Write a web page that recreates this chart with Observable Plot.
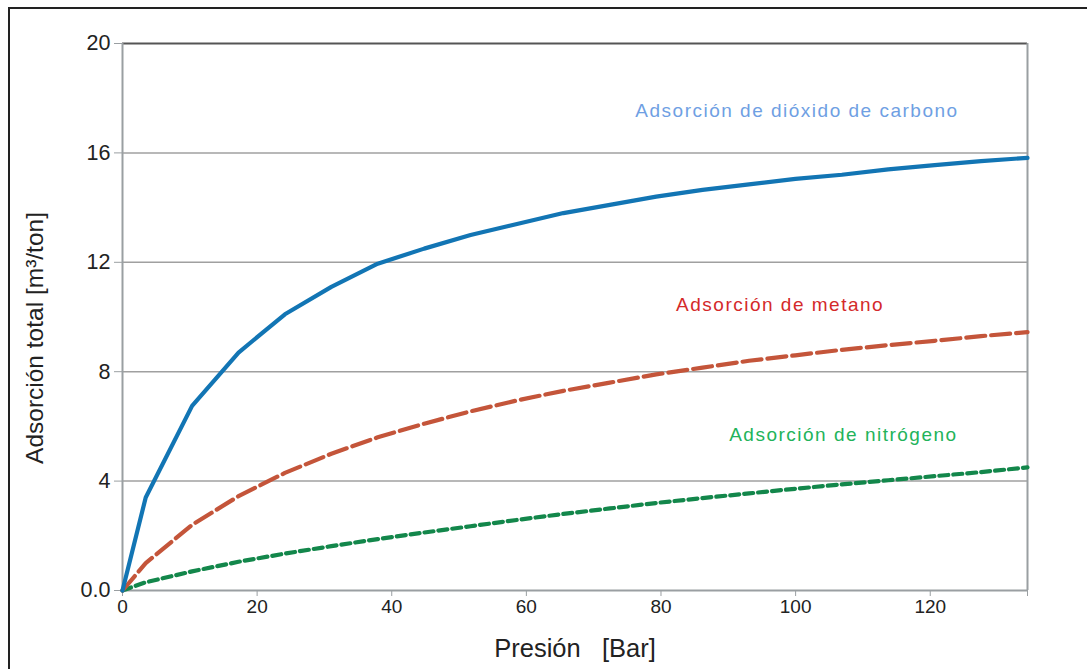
<!DOCTYPE html>
<html>
<head>
<meta charset="utf-8">
<script src="https://cdn.jsdelivr.net/npm/d3@7"></script>
<script src="https://cdn.jsdelivr.net/npm/@observablehq/plot@0.6"></script>
<style>
  html, body { margin: 0; padding: 0; background: #fff; }
  #wrap { position: relative; width: 1087px; height: 669px; overflow: hidden; }
  #border { position: absolute; left: 8px; top: 7px; width: 1100px; height: 700px;
            border-left: 2px solid #222; border-top: 2px solid #222; box-sizing: border-box; }
  #chart { position: absolute; left: 0; top: 0; }
</style>
</head>
<body>
<div id="wrap"><div id="border"></div><div id="chart"></div></div>
<script>
// Pressure (bar)
const pressure = [0, 3.45, 10.34, 17.24, 24.13, 31.03, 37.92, 44.82, 51.71, 58.61, 65.5,
                  72.4, 79.29, 86.18, 93.08, 99.97, 106.87, 113.76, 120.66, 127.55, 134.45];
// Adsorption (m3/ton)
const co2      = [0, 3.4, 6.75, 8.7, 10.1, 11.1, 11.95, 12.5, 13.0, 13.4, 13.8,
                  14.1, 14.4, 14.65, 14.85, 15.05, 15.2, 15.4, 15.55, 15.7, 15.82];
const methane  = [0, 1.0, 2.4, 3.45, 4.3, 5.0, 5.6, 6.1, 6.55, 6.95, 7.3,
                  7.6, 7.9, 8.15, 8.4, 8.6, 8.8, 8.97, 9.13, 9.3, 9.45];
const nitrogen = [0, 0.3, 0.7, 1.05, 1.35, 1.62, 1.88, 2.12, 2.35, 2.58, 2.8,
                  3.0, 3.2, 3.38, 3.55, 3.72, 3.88, 4.03, 4.18, 4.33, 4.5];

const yTicks = [0, 4, 8, 12, 16, 20];
const xTicks = [0, 20, 40, 60, 80, 100, 120];
const labels = ["Adsorción de dióxido de carbono", "Adsorción de metano", "Adsorción de nitrógeno"];
const labelX = [100.2, 97.7, 107.1];
const labelY = [17.55, 10.45, 5.7];
const labelColors = ["#6f9fe3", "#d42a2a", "#22b35a"];
const xTitle = "Presión\u00a0\u00a0\u00a0[Bar]";
const yTitle = "Adsorción total [m³/ton]";

const xMax = pressure[pressure.length - 1];
const toRows = vals => pressure.map((p, i) => ({p, v: vals[i]}));
const annot = labels.map((t, i) => ({t, x: labelX[i], y: labelY[i], c: labelColors[i]}));

const chart = Plot.plot({
  width: 1087,
  height: 669,
  marginLeft: 122,
  marginRight: 60,
  marginTop: 43,
  marginBottom: 79,
  style: {fontFamily: "Liberation Sans, Arial, sans-serif", background: "transparent", color: "#222"},
  x: {domain: [0, xMax]},
  y: {domain: [0, 20]},
  marks: [
    Plot.gridY([4, 8, 12, 16], {stroke: "#a0a0a0", strokeOpacity: 1, strokeWidth: 1.5}),
    Plot.ruleY([20], {stroke: "#555", strokeWidth: 2}),
    Plot.ruleX([0, xMax], {stroke: "#9a9fa2", strokeWidth: 2}),
    Plot.ruleY([0], {stroke: "#9a9fa2", strokeWidth: 2}),
    Plot.axisY({ticks: yTicks, tickFormat: d => d === 0 ? "0.0" : String(d), tickSize: 8,
                tickPadding: 4, stroke: "#9a9fa2", fill: "#222", label: null}),
    Plot.axisX({ticks: xTicks, tickFormat: d => String(d), tickSize: 6, tickPadding: 3,
                stroke: "#9a9fa2", fill: "#222", label: null}),
    Plot.axisX({ticks: [xMax], tickFormat: () => "", tickSize: 6, stroke: "#9a9fa2", label: null}),
    Plot.text([xTitle], {frameAnchor: "bottom", dy: 66, fontSize: 25.5, fill: "#222", text: d => d}),
    Plot.text([yTitle], {frameAnchor: "left", textAnchor: "middle", dx: -87, dy: 21, rotate: -90,
                         fontSize: 24.5, fill: "#222", text: d => d}),
    Plot.line(toRows(nitrogen), {x: "p", y: "v", stroke: "#13874b", strokeWidth: 4.2,
                                 strokeDasharray: "9,5"}),
    Plot.line(toRows(methane), {x: "p", y: "v", stroke: "#c4553a", strokeWidth: 4.2,
                                strokeDasharray: "19,6"}),
    Plot.line(toRows(co2), {x: "p", y: "v", stroke: "#1275b4", strokeWidth: 4.2}),
    Plot.text(annot, {x: "x", y: "y", text: "t", fill: "c", fontSize: 19, textAnchor: "middle"})
  ]
});
const yLabs = yTicks.map(d => d === 0 ? "0.0" : String(d));
const xLabs = xTicks.map(String);
chart.querySelectorAll("text").forEach(el => {
  const t = el.textContent;
  if (labels.includes(t)) { el.setAttribute("letter-spacing", "1.5"); return; }
  let anchor = null, n = el;
  while (n && n !== chart && !anchor) { anchor = n.getAttribute && n.getAttribute("text-anchor"); n = n.parentNode; }
  if (anchor === "end" && yLabs.includes(t)) el.style.fontSize = "21.5px";
  else if (anchor !== "end" && xLabs.includes(t)) el.style.fontSize = "19px";
});
document.getElementById("chart").appendChild(chart);
</script>
</body>
</html>
